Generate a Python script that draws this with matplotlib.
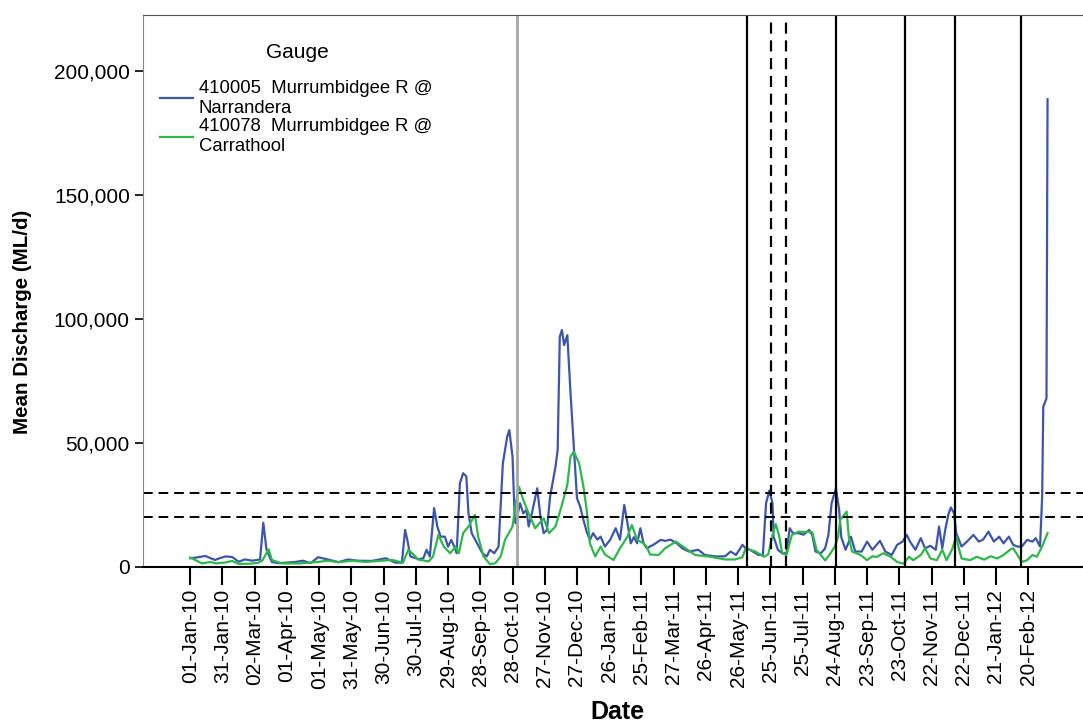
import numpy as np
import matplotlib
matplotlib.use("Agg")
import matplotlib.pyplot as plt
import matplotlib.dates as mdates
from matplotlib.ticker import FuncFormatter

plt.rcParams['font.family'] = ['Liberation Sans', 'DejaVu Sans']

start = np.datetime64('2010-01-01')

# 410005 Murrumbidgee R @ Narrandera  (days since 01-Jan-10, ML/d in thousands)
nar_days = [0, 6, 14, 19, 23, 28, 33, 39, 45, 51, 58, 65, 68, 71, 76, 82, 88, 98,
            105, 112, 119, 128, 138, 147, 156, 169, 182, 191, 197, 200, 202, 205,
            213, 217, 220, 223, 227, 230, 233, 237, 240, 243, 246, 248, 251, 254,
            257, 259, 262, 267, 272, 276, 279, 283, 287, 291, 295, 297, 300, 302,
            303, 307, 310, 313, 315, 318, 323, 326, 329, 332, 335, 340, 342, 344,
            346, 348, 351, 354, 357, 360, 363, 366, 369, 372, 375, 379, 382, 386,
            391, 396, 400, 404, 407, 410, 413, 416, 419, 422, 425, 431, 438, 442,
            447, 453, 458, 464, 473, 479, 490, 498, 503, 508, 514, 517, 521, 529,
            533, 536, 539, 542, 543, 547, 551, 555, 558, 561, 566, 571, 576, 579,
            582, 587, 591, 594, 597, 601, 604, 606, 610, 615, 619, 625, 630, 635,
            642, 647, 653, 658, 663, 667, 670, 675, 680, 684, 689, 694, 697, 700,
            703, 706, 708, 711, 713, 718, 723, 729, 734, 738, 743, 748, 753, 757,
            762, 766, 770, 774, 779, 784, 787, 791, 793, 794, 797, 798]
nar_vals = [3.5, 3.8, 4.4, 3.5, 2.8, 3.6, 4.2, 4.0, 2.1, 3.0, 2.5, 3.0, 17.8, 6.9,
            2.0, 1.5, 1.7, 2.0, 2.5, 1.5, 3.9, 3.0, 1.9, 3.0, 2.5, 2.4, 3.5, 1.7,
            1.7, 14.9, 11.0, 4.2, 3.1, 3.5, 6.9, 4.2, 23.7, 16.3, 12.2, 12.2, 8.2,
            10.9, 8.0, 5.5, 33.7, 37.8, 36.5, 21.6, 13.6, 9.5, 5.5, 4.2, 6.9, 5.5,
            8.2, 41.8, 52.5, 55.2, 44.5, 19.6, 17.6, 25.7, 21.6, 23.0, 16.3, 21.6,
            31.7, 20.2, 13.6, 14.9, 28.4, 40.4, 47.2, 92.9, 95.6, 89.5, 93.5, 70.0,
            48.5, 27.7, 24.3, 19.0, 14.2, 10.9, 13.6, 11.0, 12.2, 8.2, 11.0, 15.6,
            11.0, 25.0, 17.6, 9.5, 12.0, 9.5, 15.6, 9.5, 7.5, 8.9, 10.9, 10.5, 11.0,
            9.5, 7.5, 6.2, 6.9, 4.8, 4.2, 4.3, 6.2, 4.8, 8.9, 7.5, 6.9, 4.8, 4.8,
            25.7, 30.8, 25.7, 12.2, 6.9, 5.5, 5.5, 15.6, 13.6, 13.6, 13.0, 14.9,
            12.9, 6.2, 5.5, 7.5, 12.9, 25.7, 31.7, 23.0, 12.0, 6.9, 12.2, 6.2, 6.2,
            10.2, 6.9, 10.5, 6.2, 4.8, 8.9, 10.2, 12.9, 10.2, 6.9, 11.6, 7.5, 8.5,
            6.9, 16.3, 7.5, 15.6, 21.6, 24.0, 21.6, 13.6, 8.2, 10.2, 12.9, 10.2,
            11.0, 14.2, 10.2, 12.2, 9.5, 12.2, 8.9, 8.2, 8.2, 10.9, 10.2, 11.6, 8.2,
            28.4, 64.6, 68.0, 188.7]

# 410078 Murrumbidgee R @ Carrathool
car_days = [0, 6, 11, 19, 24, 33, 39, 45, 56, 63, 67, 73, 76, 85, 102, 119, 128,
            138, 151, 163, 175, 188, 198, 203, 208, 212, 222, 226, 231, 236, 242,
            247, 250, 254, 259, 265, 268, 273, 279, 284, 289, 293, 300, 303, 306,
            310, 315, 321, 329, 334, 340, 346, 351, 354, 357, 362, 366, 369, 372,
            377, 382, 386, 394, 400, 407, 411, 416, 422, 425, 428, 436, 442, 452,
            461, 470, 484, 498, 507, 514, 517, 526, 534, 538, 542, 545, 548, 551,
            555, 560, 566, 579, 583, 591, 596, 600, 603, 605, 611, 613, 616, 624,
            630, 635, 639, 645, 652, 658, 664, 669, 673, 680, 684, 689, 695, 700,
            704, 709, 713, 715, 718, 726, 732, 739, 745, 751, 757, 763, 766, 770,
            774, 779, 784, 788, 793, 798]
car_vals = [3.8, 2.5, 1.4, 2.0, 1.4, 1.8, 2.4, 1.2, 1.3, 1.6, 2.5, 7.1, 2.8, 1.4,
            1.4, 2.0, 2.5, 1.9, 2.5, 2.0, 2.4, 2.8, 1.7, 6.9, 4.9, 3.0, 2.2, 4.2,
            12.9, 8.2, 5.5, 8.2, 5.5, 13.6, 16.3, 21.0, 12.2, 4.2, 1.1, 1.5, 4.2,
            10.9, 16.3, 25.7, 32.4, 27.0, 21.6, 15.6, 19.6, 13.6, 16.3, 25.0, 33.1,
            44.5, 46.5, 41.8, 32.4, 23.0, 9.5, 4.2, 8.2, 5.0, 2.8, 7.5, 12.2, 16.9,
            10.9, 9.5, 8.0, 5.0, 4.8, 7.5, 10.2, 7.5, 4.8, 4.1, 3.0, 3.0, 3.9, 7.5,
            6.2, 4.1, 5.0, 12.9, 17.3, 12.9, 5.5, 4.8, 12.9, 14.2, 14.0, 6.9, 2.6,
            5.5, 8.2, 12.0, 19.0, 22.3, 12.2, 6.2, 4.8, 2.7, 4.3, 4.0, 5.5, 4.1,
            2.0, 1.3, 4.1, 2.7, 4.8, 7.5, 3.4, 2.7, 6.9, 2.7, 6.9, 12.2, 8.2, 3.4,
            2.7, 4.1, 2.9, 4.3, 3.4, 4.8, 6.9, 7.5, 4.8, 2.0, 2.7, 4.8, 4.1, 8.2,
            13.6]

gray_line = '2010-11-01'
solid_lines = ['2011-06-03', '2011-08-25', '2011-10-28', '2011-12-14', '2012-02-13']
dashed_vlines = ['2011-06-26', '2011-07-10']
dashed_hlines = [20000, 30000]

nar_x = (start + np.array(nar_days)).astype(object)
car_x = (start + np.array(car_days)).astype(object)

fig = plt.figure(figsize=(10.83, 7.24), dpi=100)
ax = fig.add_axes([0.132, 0.217, 0.868, 0.762])

ax.plot(nar_x, np.array(nar_vals) * 1000, color='#3c55ad', lw=1.6,
        label='410005  Murrumbidgee R @\nNarrandera')
ax.plot(car_x, np.array(car_vals) * 1000, color='#2db84a', lw=1.6,
        label='410078  Murrumbidgee R @\nCarrathool')

for y in dashed_hlines:
    ax.axhline(y, color='black', lw=1.4, ls=(0, (5, 3)))
ax.axvline(np.datetime64(gray_line).astype(object), color='#a6a6a6', lw=2)
for d in solid_lines:
    ax.axvline(np.datetime64(d).astype(object), color='black', lw=1.6)
for d in dashed_vlines:
    ax.axvline(np.datetime64(d).astype(object), color='black', lw=1.6, ls=(0, (5, 3)))

ax.set_xlim(np.datetime64('2009-11-18').astype(object), np.datetime64('2012-04-11').astype(object))
ax.set_ylim(0, 222600)

ticks = [(start + np.timedelta64(30 * i, 'D')).astype(object) for i in range(27)]
ax.set_xticks(ticks)
ax.xaxis.set_major_formatter(mdates.DateFormatter('%d-%b-%y'))
ax.set_yticks([0, 50000, 100000, 150000, 200000])
ax.yaxis.set_major_formatter(FuncFormatter(lambda v, p: f'{int(v):,}'))
ax.tick_params(axis='x', labelsize=15, rotation=90, length=13, width=1.5, pad=3)
ax.tick_params(axis='y', labelsize=15, length=6, width=1.2)

ax.spines['right'].set_visible(False)
ax.spines['left'].set_color('#888888')
ax.spines['top'].set_color('#555555')
ax.spines['bottom'].set_linewidth(1.5)

fig.text(0.021, 0.555, 'Mean Discharge (ML/d)', rotation=90, ha='center', va='center',
         fontsize=14.8, fontweight='bold')
fig.text(0.57, 0.017, 'Date', ha='center', va='center', fontsize=18, fontweight='bold')

# legend without frame, title placed separately
leg = ax.legend(loc='upper left', bbox_to_anchor=(160 / 1083, 1 - 80 / 724),
                bbox_transform=fig.transFigure, frameon=False, fontsize=13.3,
                handlelength=1.8, labelspacing=0.1, handletextpad=0.3,
                borderpad=0, borderaxespad=0)
fig.text(297 / 1083, 1 - 53 / 724, 'Gauge', ha='center', va='center', fontsize=15)

fig.savefig('out.png', dpi=100)
